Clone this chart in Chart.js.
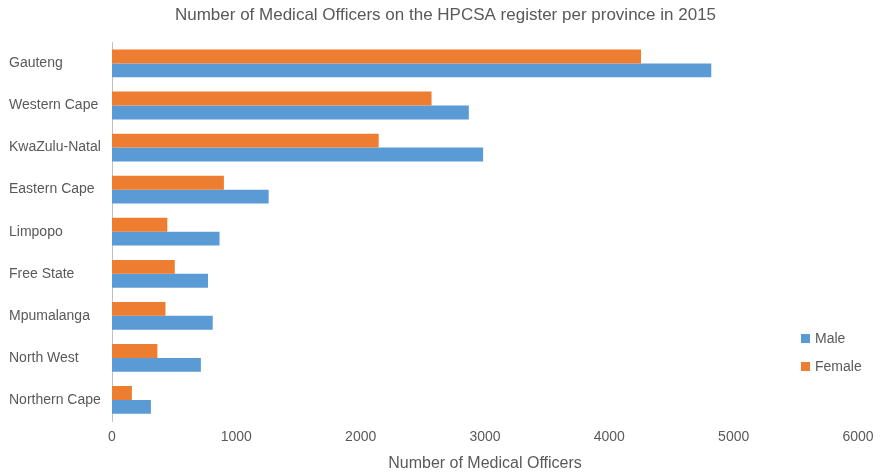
<!DOCTYPE html>
<html>
<head>
<meta charset="utf-8">
<script src="https://cdn.jsdelivr.net/npm/chart.js@4.4.1/dist/chart.umd.min.js"></script>
<style>
  html, body { margin: 0; padding: 0; background: #ffffff; }
  #wrap { width: 882px; height: 473px; position: relative; }
</style>
</head>
<body>
<div id="wrap"><canvas id="chart" width="882" height="473"></canvas></div>
<script>
// Medical officers registered with the HPCSA, 2015, by province and sex
const provinces = ['Gauteng', 'Western Cape', 'KwaZulu-Natal', 'Eastern Cape', 'Limpopo',
                   'Free State', 'Mpumalanga', 'North West', 'Northern Cape'];
const female = [4255, 2570, 2145, 900, 445, 505, 430, 365, 160];
const male   = [4820, 2870, 2985, 1260, 865, 772, 810, 715, 313];
const xTicks = [0, 1000, 2000, 3000, 4000, 5000, 6000];

const FONT = '"Liberation Sans", Arial, sans-serif';
const TEXT = '#595959';
const ORANGE = '#ED7D31';
const BLUE = '#5B9BD5';

// Legend drawn inside the plot, lower right, Male listed first
const sideLegend = {
  id: 'sideLegend',
  afterDraw(chart) {
    const ctx = chart.ctx;
    const items = [
      { label: 'Male', color: BLUE },
      { label: 'Female', color: ORANGE }
    ];
    ctx.save();
    ctx.font = '14px ' + FONT;
    ctx.textBaseline = 'middle';
    items.forEach((it, i) => {
      const y = 339 + i * 28;
      ctx.fillStyle = it.color;
      ctx.fillRect(801, y - 5, 9, 9);
      ctx.fillStyle = TEXT;
      ctx.fillText(it.label, 815, y);
    });
    ctx.restore();
  }
};

// Centre the title over the plot-plus-labels span rather than the padded canvas
const titleShift = {
  id: 'titleShift',
  afterLayout(chart) {
    if (chart.titleBlock) chart.titleBlock.left += 24;
  }
};

new Chart(document.getElementById('chart'), {
  type: 'bar',
  data: {
    labels: provinces,
    datasets: [
      { label: 'Female', data: female, backgroundColor: ORANGE,
        categoryPercentage: 0.66, barPercentage: 1.0 },
      { label: 'Male', data: male, backgroundColor: BLUE,
        categoryPercentage: 0.66, barPercentage: 1.0 }
    ]
  },
  options: {
    indexAxis: 'y',
    responsive: false,
    animation: false,
    layout: { padding: { left: 9, right: 24, top: 0, bottom: 0 } },
    plugins: {
      legend: { display: false },
      tooltip: { enabled: false },
      title: {
        display: true,
        text: 'Number of Medical Officers on the HPCSA register per province in 2015',
        color: TEXT,
        font: { family: FONT, size: 17, weight: 'normal' },
        padding: { top: 5, bottom: 17 }
      }
    },
    scales: {
      x: {
        min: 0, max: 6000,
        afterBuildTicks(scale) { scale.ticks = xTicks.map(v => ({ value: v })); },
        grid: { display: false, drawTicks: false },
        border: { display: false },
        ticks: {
          color: TEXT, font: { family: FONT, size: 14 }, padding: 8,
          callback: v => String(v)
        },
        title: {
          display: true, text: 'Number of Medical Officers', color: TEXT,
          font: { family: FONT, size: 16 }, padding: { top: 0, bottom: 0 }
        }
      },
      y: {
        grid: { display: false, drawTicks: false },
        border: { display: true, color: '#bfbfbf', width: 1 },
        afterFit(scale) { scale.width = 103; },
        ticks: {
          color: TEXT, font: { family: FONT, size: 14 },
          crossAlign: 'far', padding: 8
        }
      }
    }
  },
  plugins: [sideLegend, titleShift]
});
</script>
</body>
</html>
